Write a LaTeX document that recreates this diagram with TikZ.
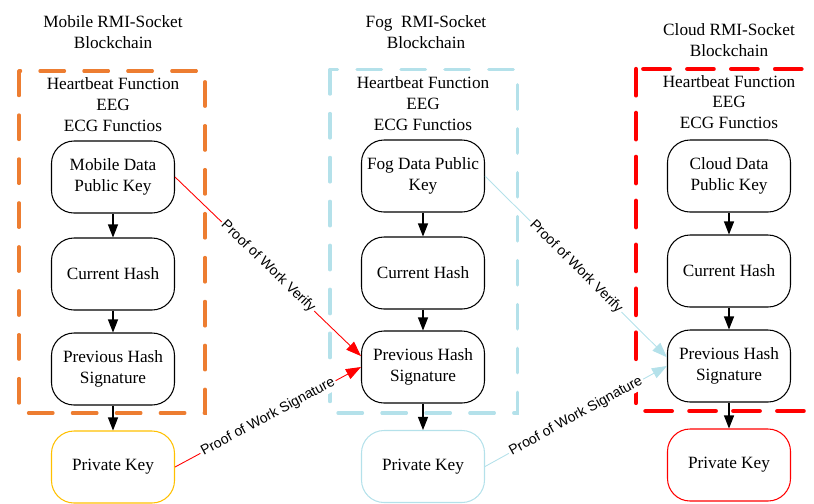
\documentclass[tikz,border=0pt]{standalone}
\usepackage{fontspec}
\setmainfont{Liberation Serif}
\newfontfamily\labelfont{Liberation Sans}
\usetikzlibrary{arrows.meta}
\definecolor{mobileorange}{HTML}{ED7D31}
\definecolor{foglight}{HTML}{B4E1EA}
\definecolor{keygold}{HTML}{FFC000}
\tikzset{
	block/.style={draw, rounded corners=0.45cm, minimum width=2.46cm, minimum height=1.44cm, align=center, line width=0.6pt, inner sep=1pt, font=\fontsize{9.8}{11.8}\selectfont},
	headtext/.style={align=center, font=\fontsize{9.8}{11.8}\selectfont},
	chainbox/.style={line width=1.8pt, dash pattern=on 14pt off 11pt, line cap=round},
	link/.style={-{Triangle[length=0.26cm, width=0.2cm]}, line width=0.6pt},
	proof/.style={-{Triangle[length=0.3cm, width=0.22cm]}, line width=0.5pt},
	proofnote/.style={sloped, midway, fill=white, text=black, inner sep=1pt, font=\labelfont\fontsize{8}{9}\selectfont},
}

\begin{document}
\begin{tikzpicture}
	\useasboundingbox (0,0) rectangle (16.28,-10.06);
	\clip (0,0) rectangle (16.28,-10.06);
	
	% dashed frames
	\draw[chainbox, mobileorange] (0.38,-1.42) rectangle (4.1,-8.26);
	\draw[chainbox, foglight] (6.6,-1.39) rectangle (10.35,-8.26);
	\draw[chainbox, red, line width=2.5pt, dash pattern=on 15pt off 10pt] (12.72,-1.38) rectangle (17.2,-8.22);
	
	% titles
	\node[headtext] (mtitle) at (2.26,-0.64) {Mobile RMI-Socket\\Blockchain};
	\node[headtext] (ftitle) at (8.52,-0.64) {Fog\ \ RMI-Socket\\Blockchain};
	\node[headtext] (ctitle) at (14.58,-0.8) {Cloud RMI-Socket\\Blockchain};
	
	\node[headtext] (mhead) at (2.26,-2.09) {Heartbeat Function\\EEG\\ECG Functios};
	\node[headtext] (fhead) at (8.46,-2.07) {Heartbeat Function\\EEG\\ECG Functios};
	\node[headtext] (chead) at (14.58,-2.04) {Heartbeat Function\\EEG\\ECG Functios};
	
	% mobile
	\node[block] (mdata) at (2.26,-3.54) {Mobile Data\\Public Key};
	\node[block] (mcur) at (2.26,-5.48) {Current Hash};
	\node[block] (mprev) at (2.26,-7.38) {Previous Hash\\Signature};
	\node[block, draw=keygold] (mkey) at (2.26,-9.34) {Private Key};
	
	% fog
	\node[block] (fdata) at (8.46,-3.52) {Fog Data Public\\Key};
	\node[block] (fcur) at (8.46,-5.46) {Current Hash};
	\node[block] (fprev) at (8.46,-7.34) {Previous Hash\\Signature};
	\node[block, draw=foglight] (fkey) at (8.46,-9.33) {Private Key};
	
	% cloud
	\node[block] (cdata) at (14.58,-3.52) {Cloud Data\\Public Key};
	\node[block] (ccur) at (14.58,-5.42) {Current Hash};
	\node[block] (cprev) at (14.58,-7.32) {Previous Hash\\Signature};
	\node[block, draw=red] (ckey) at (14.58,-9.3) {Private Key};
	
	% chain links
	\draw[link] (mdata) -- (mcur);
	\draw[link] (mcur) -- (mprev);
	\draw[link] (mprev) -- (mkey);
	\draw[link] (fdata) -- (fcur);
	\draw[link] (fcur) -- (fprev);
	\draw[link] (fprev) -- (fkey);
	\draw[link] (cdata) -- (ccur);
	\draw[link] (ccur) -- (cprev);
	\draw[link] (cprev) -- (ckey);
	
	% proof of work
	\draw[proof, red] (mdata.east) -- (fprev.170) node[proofnote] {Proof of Work Verify};
	\draw[proof, red] (mkey.east) -- (fprev.west) node[proofnote] {Proof of Work Signature};
	\draw[proof, foglight] (fdata.east) -- (cprev.172) node[proofnote] {Proof of Work Verify};
	\draw[proof, foglight] (fkey.east) -- (cprev.west) node[proofnote] {Proof of Work Signature};
\end{tikzpicture}
\end{document}
